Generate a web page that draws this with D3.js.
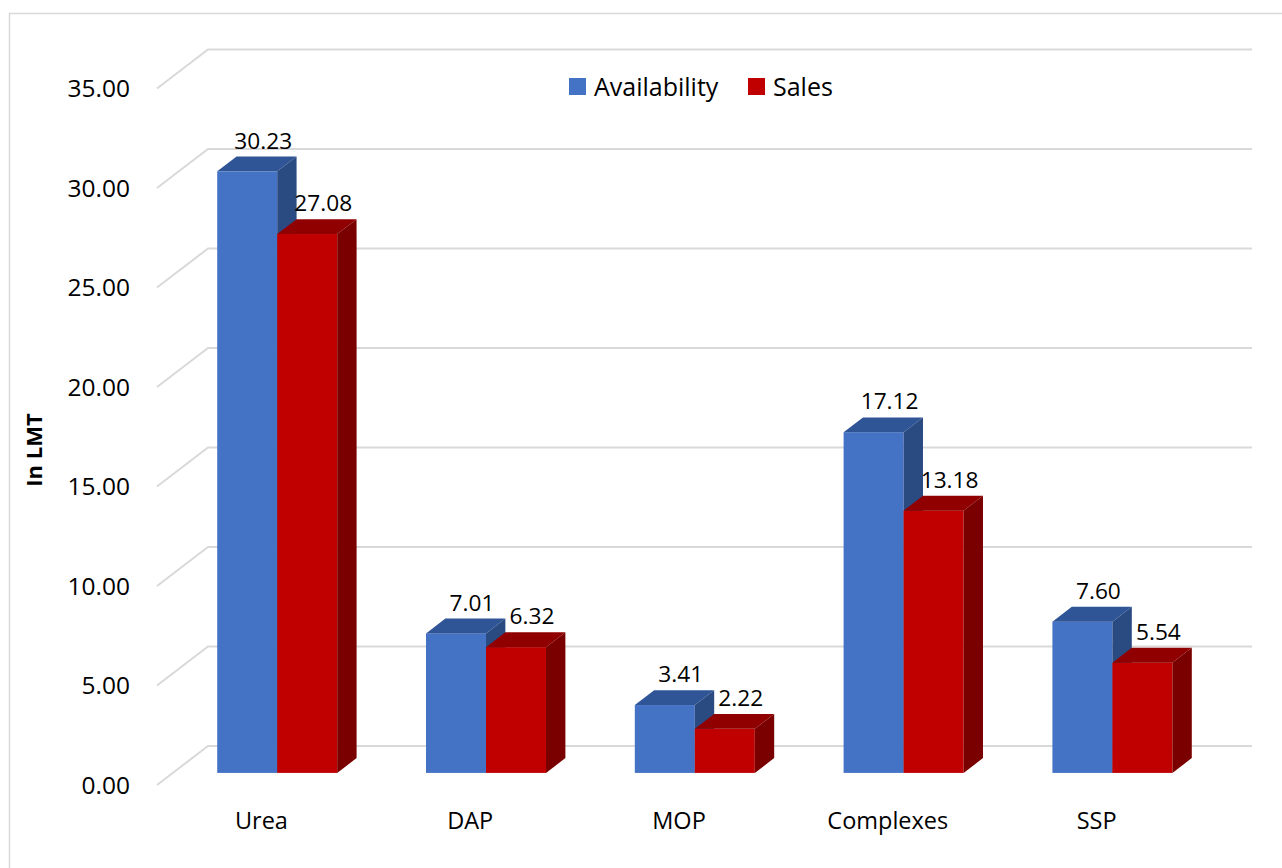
<!DOCTYPE html>
<html>
<head>
<meta charset="utf-8">
<script src="https://cdn.jsdelivr.net/npm/d3@7"></script>
<style>
  body { margin: 0; background: #fff; }
  svg { display: block; font-family: "Open Sans", sans-serif; }
</style>
</head>
<body>
<svg id="viz" width="1282" height="868"></svg>
<script>
// data
var categories = ["Urea", "DAP", "MOP", "Complexes", "SSP"];
var seriesNames = ["Availability", "Sales"];
var availability = [30.23, 7.01, 3.41, 17.12, 7.60];
var sales = [27.08, 6.32, 2.22, 13.18, 5.54];
var yTicks = [0, 5, 10, 15, 20, 25, 30, 35];

var colors = {
    Availability: { front: "#4472C4", top: "#2F5597", side: "#2A4A82" },
    Sales: { front: "#C00000", top: "#900000", side: "#7A0000" }
};

var svg = d3.select("#viz");

// oblique 3d: whole floor depth goes (51, -39), bars sit between 0.31 and 0.69 of it
var depthX = 51, depthY = 39;
var barD0 = 0.31, barD1 = 0.69;
var frontLeft = 157, frontRight = 1201, frontBase = 785;

function px(x, d) { return x + depthX * d; }
function py(y, d) { return y - depthY * d; }

// y scale on the front plane of the walls
var y = d3.scaleLinear().domain([0, 35]).range([frontBase, frontBase - 696.5]);
// category scale on the front plane
var x = d3.scaleBand().domain(categories).range([frontLeft, frontRight]);
var xSeries = d3.scaleBand().domain(seriesNames).range([0, 120]);

// chart border
svg.append("rect")
    .attr("x", 9.5).attr("y", 13.5)
    .attr("width", 1290).attr("height", 880)
    .attr("fill", "none")
    .attr("stroke", "#d9d9d9")
    .attr("stroke-width", 1.5);

// gridlines: side wall diagonal + back wall line
var grid = svg.append("g").attr("class", "grid")
    .attr("stroke", "#d9d9d9").attr("stroke-width", 2).attr("fill", "none");

grid.selectAll("path")
    .data(yTicks)
    .enter()
    .append("path")
    .attr("d", function (t) {
        var yf = y(t);
        return "M" + frontLeft + "," + yf +
            "L" + px(frontLeft, 1) + "," + py(yf, 1) +
            "L" + px(frontRight, 1) + "," + py(yf, 1);
    });

// y tick labels
svg.append("g").attr("class", "ticks")
    .selectAll("text")
    .data(yTicks)
    .enter()
    .append("text")
    .attr("x", 130)
    .attr("y", function (t) { return y(t); })
    .attr("dy", "0.36em")
    .attr("text-anchor", "end")
    .style("font-size", "24.5px")
    .style("fill", "#000")
    .text(function (t) { return d3.format(".2f")(t); });

// axis title
svg.append("text")
    .attr("transform", "translate(42,450) rotate(-90)")
    .attr("text-anchor", "middle")
    .style("font-size", "22px")
    .style("font-weight", "bold")
    .text("In LMT");

// bars
var bars = [];
categories.forEach(function (c, i) {
    bars.push({ cat: c, series: "Availability", value: availability[i] });
    bars.push({ cat: c, series: "Sales", value: sales[i] });
});

var barW = xSeries.bandwidth();
var bdx = depthX * (barD1 - barD0), bdy = depthY * (barD1 - barD0);
var pad = (x.bandwidth() - 120) / 2;

var barG = svg.append("g").attr("class", "bars")
    .selectAll("g")
    .data(bars)
    .enter()
    .append("g");

function barX(d) { return px(x(d.cat) + pad + xSeries(d.series), barD0); }
function barTop(d) { return py(y(d.value), barD0); }
var barBase = py(y(0), barD0);

barG.append("rect")
    .attr("x", barX)
    .attr("y", barTop)
    .attr("width", barW)
    .attr("height", function (d) { return barBase - barTop(d); })
    .attr("fill", function (d) { return colors[d.series].front; });

barG.append("path")
    .attr("d", function (d) {
        var x0 = barX(d), t = barTop(d);
        return "M" + x0 + "," + t + "L" + (x0 + bdx) + "," + (t - bdy) +
            "L" + (x0 + barW + bdx) + "," + (t - bdy) + "L" + (x0 + barW) + "," + t + "Z";
    })
    .attr("fill", function (d) { return colors[d.series].top; });

barG.append("path")
    .attr("d", function (d) {
        var x1 = barX(d) + barW, t = barTop(d);
        return "M" + x1 + "," + t + "L" + (x1 + bdx) + "," + (t - bdy) +
            "L" + (x1 + bdx) + "," + (barBase - bdy) + "L" + x1 + "," + barBase + "Z";
    })
    .attr("fill", function (d) { return colors[d.series].side; });

// value labels
barG.append("text")
    .attr("x", function (d) { return barX(d) + barW / 2 + 16; })
    .attr("y", function (d) { return barTop(d) - 31; })
    .attr("dy", "0.36em")
    .attr("text-anchor", "middle")
    .style("font-size", "22.7px")
    .text(function (d) { return d3.format(".2f")(d.value); });

// category labels
svg.append("g").attr("class", "cats")
    .selectAll("text")
    .data(categories)
    .enter()
    .append("text")
    .attr("x", function (c) { return x(c) + x.bandwidth() / 2; })
    .attr("y", 829)
    .attr("text-anchor", "middle")
    .style("font-size", "23.5px")
    .text(function (c) { return c; });

// legend
var legend = svg.append("g").attr("class", "legend")
    .selectAll("g")
    .data(seriesNames)
    .enter()
    .append("g")
    .attr("transform", function (s, i) { return "translate(" + [569, 748][i] + ",78)"; });

legend.append("rect")
    .attr("width", 17).attr("height", 17)
    .attr("fill", function (s) { return colors[s].front; });

legend.append("text")
    .attr("x", 25)
    .attr("y", 8.5)
    .attr("dy", "0.36em")
    .style("font-size", "25px")
    .text(function (s) { return s; });
</script>
</body>
</html>
